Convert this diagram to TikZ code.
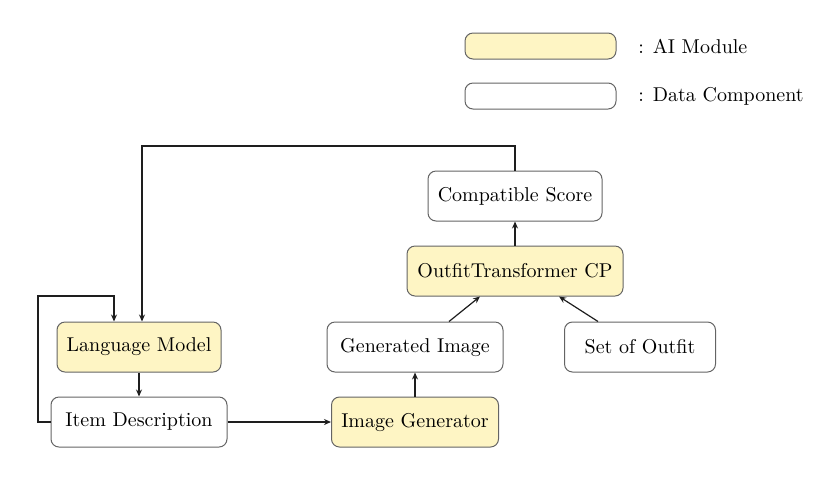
\documentclass[tikz,border=0pt]{standalone}
\usetikzlibrary{arrows.meta,calc}
\definecolor{aifill}{RGB}{254,245,196}
\definecolor{boxline}{RGB}{100,100,100}
\definecolor{arrowcol}{RGB}{30,30,30}
\begin{document}
\begin{tikzpicture}[x=0.5pt,y=-0.5pt,
  box/.style={draw=boxline,line width=0.5pt,rounded corners=4pt,minimum height=25pt,inner sep=0pt,font=\normalsize},
  aibox/.style={box,fill=aifill},
  databox/.style={box,fill=white},
  legbox/.style={draw=boxline,line width=0.5pt,rounded corners=4pt,minimum width=75.5pt,minimum height=13pt,inner sep=0pt},
  conn/.style={draw=arrowcol,line width=0.6pt,-{Stealth[length=3.5pt,width=3pt]}}]
\useasboundingbox (0,0) rectangle (828,478);
% legend
\node[legbox,fill=aifill] (legai) at (540.5,46) {};
\node[anchor=west,inner sep=0pt] (legaitxt) at (638,46) {: AI Module};
\node[legbox,fill=white] (legdata) at (540.5,96) {};
\node[anchor=west,inner sep=0pt] (legdatatxt) at (638,96) {: Data Component};
% nodes
\node[aibox,minimum width=82pt] (lm) at (139,347) {Language Model};
\node[databox,minimum width=88pt] (id) at (139,422) {Item Description};
\node[databox,minimum width=88pt] (gi) at (415,347) {Generated Image};
\node[aibox,minimum width=83.5pt] (ig) at (415,422) {Image Generator};
\node[databox,minimum width=87pt] (cs) at (515,196) {Compatible Score};
\node[aibox,minimum width=108pt] (ot) at (515,271) {OutfitTransformer CP};
\node[databox,minimum width=75.5pt] (so) at (640,347) {Set of Outfit};
\coordinate (topy) at (0,146);
\coordinate (loopx) at (38,0);
\coordinate (loopy) at (0,296);
% connectors
\draw[conn] (lm.south) -- (id.north);
\draw[conn] (id.east) -- (ig.west);
\draw[conn] (ig.north) -- (gi.south);
\draw[conn] ($(gi.north)+(34,0)$) -- ($(ot.south)+(-35,0)$);
\draw[conn] ($(so.north)+(-42,0)$) -- ($(ot.south)+(44,0)$);
\draw[conn] (ot.north) -- (cs.south);
\draw[conn] (cs.north) -- (cs.north |- topy) -- ($(lm.north |- topy)+(3,0)$) -- ($(lm.north)+(3,0)$);
\draw[conn] (id.west) -- (loopx |- id.west) -- (loopx |- loopy) -- ($(lm.north |- loopy)+(-25,0)$) -- ($(lm.north)+(-25,0)$);
\end{tikzpicture}
\end{document}
